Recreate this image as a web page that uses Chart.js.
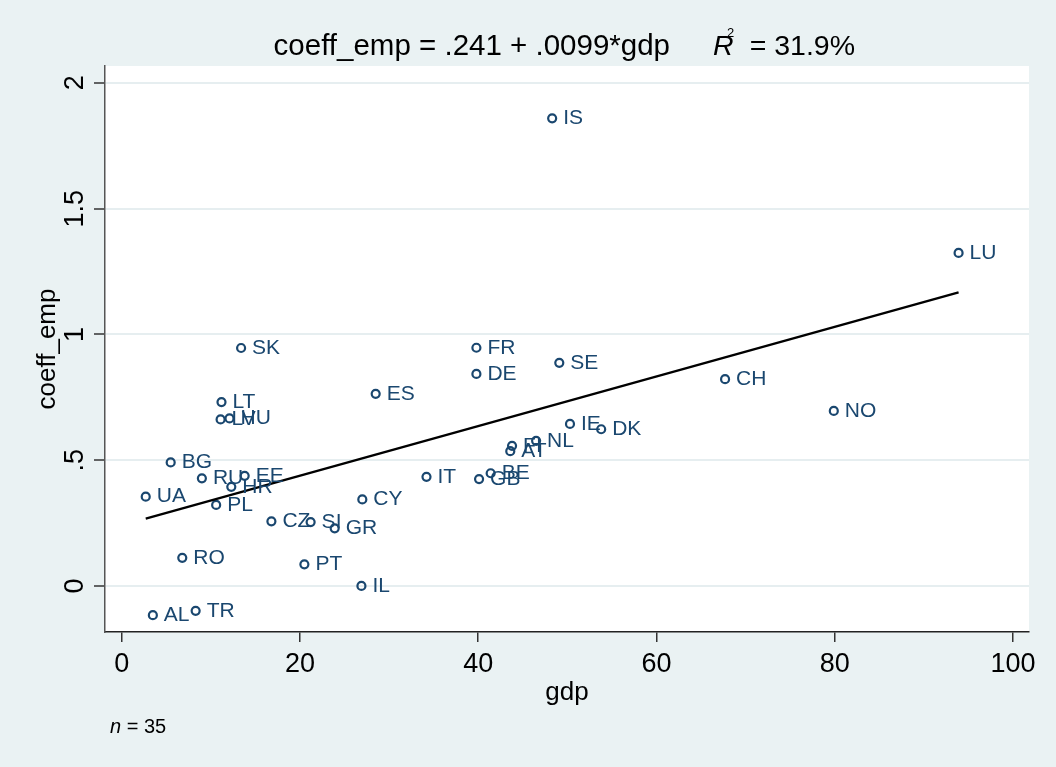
<!DOCTYPE html>
<html><head><meta charset="utf-8">
<script src="https://cdn.jsdelivr.net/npm/chart.js@4/dist/chart.umd.min.js"></script>
<style>html,body{margin:0;padding:0;background:#EAF2F3;} #wrap{width:1056px;height:767px;position:relative;}</style>
</head><body><div id="wrap"><canvas id="c" width="1056" height="767"></canvas></div>
<script>
const countries = ['IS','LU','SK','FR','SE','DE','CH','ES','NO','LT','LV','HU','IE','DK','NL','FI','AT','BG','RU','EE','HR','IT','BE','GB','UA','PL','CY','CZ','SI','GR','RO','PT','IL','AL','TR'];
const gdp = [48.3, 93.9, 13.4, 39.8, 49.1, 39.8, 67.7, 28.5, 79.9, 11.2, 11.1, 12.1, 50.3, 53.8, 46.5, 43.8, 43.6, 5.5, 9.0, 13.8, 12.3, 34.2, 41.4, 40.1, 2.7, 10.6, 27.0, 16.8, 21.2, 23.9, 6.8, 20.5, 26.9, 3.5, 8.3];
const coeffEmp = [1.859, 1.324, 0.946, 0.947, 0.887, 0.843, 0.822, 0.764, 0.696, 0.731, 0.662, 0.666, 0.644, 0.623, 0.577, 0.557, 0.536, 0.491, 0.428, 0.438, 0.394, 0.434, 0.448, 0.425, 0.355, 0.322, 0.344, 0.257, 0.254, 0.229, 0.112, 0.086, 0.0, -0.116, -0.099];
const fitGdp = [2.7, 93.9];
const fitCoeff = [0.268, 1.167];
const xTicks = [0, 20, 40, 60, 80, 100];
const yTicks = [0, 0.5, 1, 1.5, 2];
const yTickLabels = ['0', '.5', '1', '1.5', '2'];
const titleMain = 'coeff_emp = .241 + .0099*gdp';
const titleR = 'R';
const titleSup = '2';
const titleR2 = '= 31.9%';
const xTitle = 'gdp';
const yTitle = 'coeff_emp';
const noteVar = 'n';
const noteVal = '= 35';

const FONT = "'Liberation Sans', Arial, Helvetica, sans-serif";
const NAVY = '#1a476f';
const BG = '#EAF2F3';

const bgPlugin = {
  id: 'bg',
  beforeDraw(chart) {
    const ctx = chart.ctx, a = chart.chartArea;
    ctx.save();
    ctx.fillStyle = BG;
    ctx.fillRect(0, 0, chart.width, chart.height);
    ctx.fillStyle = '#ffffff';
    ctx.fillRect(a.left, a.top, a.right - a.left, a.bottom - a.top);
    ctx.restore();
  }
};

const textPlugin = {
  id: 'texts',
  afterDatasetsDraw(chart) {
    const ctx = chart.ctx;
    const meta = chart.getDatasetMeta(0);
    ctx.save();
    ctx.fillStyle = NAVY;
    ctx.font = '21px ' + FONT;
    ctx.textAlign = 'left';
    ctx.textBaseline = 'middle';
    meta.data.forEach((pt, i) => {
      ctx.fillText(countries[i], pt.x + 11, pt.y);
    });
    ctx.restore();
  },
  afterDraw(chart) {
    const ctx = chart.ctx;
    const ys = chart.scales.y, a = chart.chartArea;
    ctx.save();
    ctx.fillStyle = '#000';
    ctx.font = '27px ' + FONT;
    ctx.textAlign = 'center';
    ctx.textBaseline = 'alphabetic';
    yTicks.forEach((v, i) => {
      const py = ys.getPixelForValue(v);
      ctx.save();
      ctx.translate(83, py);
      ctx.rotate(-Math.PI / 2);
      ctx.fillText(yTickLabels[i], 0, 0);
      ctx.restore();
    });
    ctx.save();
    ctx.translate(55, (a.top + a.bottom) / 2);
    ctx.rotate(-Math.PI / 2);
    ctx.font = '26px ' + FONT;
    ctx.fillText(yTitle, 0, 0);
    ctx.restore();
    ctx.font = '26px ' + FONT;
    ctx.textAlign = 'center';
    ctx.fillText(xTitle, (a.left + a.right) / 2, 700);
    ctx.font = '29.5px ' + FONT;
    ctx.textAlign = 'right';
    ctx.fillText(titleMain, 670, 55);
    ctx.font = 'italic 28.5px ' + FONT;
    ctx.textAlign = 'left';
    ctx.fillText(titleR, 713, 55);
    ctx.font = '13px ' + FONT;
    ctx.fillText(titleSup, 727, 37);
    ctx.font = '28.5px ' + FONT;
    ctx.textAlign = 'right';
    ctx.fillText(titleR2, 855, 55);
    ctx.textAlign = 'left';
    ctx.font = 'italic 20px ' + FONT;
    ctx.fillText(noteVar, 110, 733);
    const w = ctx.measureText(noteVar + ' ').width;
    ctx.font = '20px ' + FONT;
    ctx.fillText(noteVal, 110 + w, 733);
    ctx.restore();
  }
};

new Chart(document.getElementById('c'), {
  data: {
    datasets: [
      {
        type: 'scatter',
        data: gdp.map((g, i) => ({ x: g, y: coeffEmp[i] })),
        pointStyle: 'circle',
        pointRadius: 4,
        pointBorderWidth: 2.2,
        borderColor: NAVY,
        pointBorderColor: NAVY,
        backgroundColor: 'rgba(0,0,0,0)',
        pointBackgroundColor: 'rgba(0,0,0,0)',
        order: 2
      },
      {
        type: 'line',
        data: fitGdp.map((g, i) => ({ x: g, y: fitCoeff[i] })),
        borderColor: '#000',
        borderWidth: 2.3,
        pointRadius: 0,
        fill: false,
        tension: 0,
        order: 1
      }
    ]
  },
  options: {
    responsive: false,
    animation: false,
    devicePixelRatio: 1,
    layout: { padding: { top: 66, right: 27, bottom: 0, left: 0 } },
    plugins: { legend: { display: false }, tooltip: { enabled: false }, title: { display: false } },
    scales: {
      x: {
        type: 'linear',
        position: 'bottom',
        min: -1.87,
        max: 101.8,
        afterBuildTicks: s => { s.ticks = xTicks.map(v => ({ value: v })); },
        afterFit: s => { s.height = 135; },
        grid: { display: true, drawOnChartArea: false, drawTicks: true, tickLength: 10, tickColor: '#333', tickWidth: 1.5, lineWidth: 1.5 },
        border: { display: true, color: '#222', width: 1.5 },
        ticks: { color: '#000', font: { size: 27, family: FONT }, padding: 6, maxRotation: 0, minRotation: 0, autoSkip: false, callback: v => String(v) }
      },
      y: {
        type: 'linear',
        position: 'left',
        min: -0.183,
        max: 2.067,
        afterBuildTicks: s => { s.ticks = yTicks.map(v => ({ value: v })); },
        afterFit: s => { s.width = 105; },
        grid: { display: true, drawOnChartArea: true, drawTicks: true, tickLength: 11, color: '#E6EEF0', tickColor: '#333', tickWidth: 1.5, lineWidth: 2 },
        border: { display: true, color: '#555', width: 1.5 },
        ticks: { display: false }
      }
    }
  },
  plugins: [bgPlugin, textPlugin]
});
</script>
</body></html>
